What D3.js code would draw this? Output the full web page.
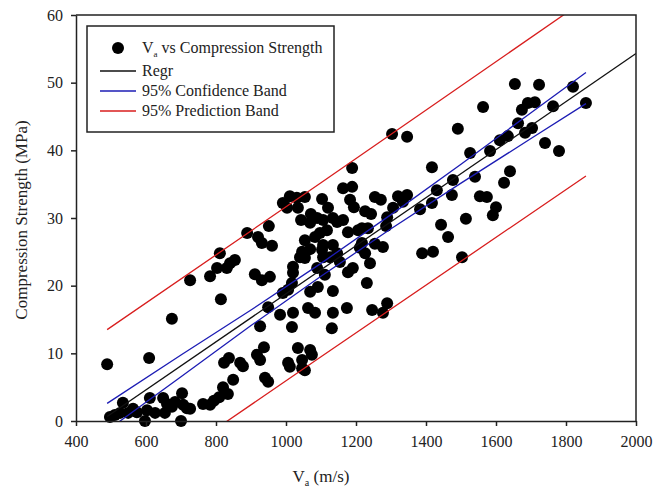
<!DOCTYPE html>
<html>
<head>
<meta charset="utf-8">
<script src="https://cdn.jsdelivr.net/npm/d3@7"></script>
<style>
	html, body { margin: 0; padding: 0; background: #fff; overflow: hidden; width: 664px; height: 490px; }
	svg { display: block; position: absolute; left: 0; top: 0; }
	svg text { font-family: "Liberation Serif", serif; fill: #222; }
	.axis path, .axis line { stroke: #222; stroke-width: 1.5; }
</style>
<script>

/* data */
var velocity = [489,609,674,534,497,511,526,549,563,611,649,660,683,674,706,717,726,603,626,654,597,700,574,703,726,
	811,854,840,803,783,831,911,931,954,814,949,926,937,917,926,837,823,869,877,849,940,949,820,834,809,794,763,783,889,920,931,951,960,
	991,1011,1031,1054,1003,1034,1043,1071,1103,1120,1069,1089,1106,1134,1146,1163,1083,1097,1117,1163,1189,1189,1183,1194,1177,1206,
	1054,1069,1046,1040,1054,1106,1134,1103,1106,1126,1146,1020,1020,1089,1111,1154,1177,1191,1017,1091,1069,1134,991,1006,
	983,1020,1063,1083,1134,1174,1017,1131,1034,1069,1074,1006,1011,1046,1046,1054,
	1226,1243,1254,1271,1320,1346,1334,1306,1289,1286,1217,1234,1383,1431,1417,1477,1474,1443,1463,1217,1211,1254,1277,1226,1389,1420,1240,1303,1346,1417,1231,1289,1246,1277,
	1654,1723,1820,1563,1674,1691,1711,1763,1857,1663,1491,1611,1634,1703,1683,1740,1780,1526,1583,1640,1540,1623,1554,1574,1600,1591,1514,1503];

var strength = [8.4,9.3,15.1,2.7,0.6,0.9,1.2,1.2,1.8,3.4,3.4,2.5,2.8,2.1,2.4,1.9,1.8,1.6,1.2,1.2,0,0,1.3,4.1,20.8,
	24.8,23.8,23.3,22.6,21.4,22.6,21.7,20.8,21.3,18.0,16.8,14.0,10.9,9.8,9.0,9.3,8.6,8.6,8.1,6.1,6.4,5.8,5.0,4.0,3.5,3.0,2.5,2.4,27.8,27.2,26.3,28.8,25.9,
	32.2,33.2,33.0,33.1,31.5,31.5,29.7,30.6,32.8,31.5,29.3,30.0,29.7,30.0,29.4,29.7,27.2,27.8,28.2,34.4,34.6,37.4,32.7,31.6,27.9,28.2,
	26.7,25.4,25.0,24.2,24.1,26.0,26.0,25.3,24.2,24.2,24.8,22.8,21.9,22.6,21.6,23.5,22.0,22.6,20.4,19.8,19.1,19.2,18.9,19.4,
	15.7,16.0,16.7,16.0,16.0,16.7,13.9,13.7,10.8,10.5,9.8,8.6,8.0,9.0,7.8,7.5,
	31.0,30.6,33.1,32.7,33.2,33.4,32.4,31.5,30.1,28.8,28.5,28.5,31.3,34.1,32.2,35.6,33.4,29.0,27.2,26.3,25.6,26.2,25.7,24.8,24.8,25.0,23.3,42.4,42.0,37.5,20.4,17.4,16.4,16.0,
	49.8,49.7,49.4,46.4,46.0,47.0,47.1,46.5,47.0,44.0,43.2,41.5,42.1,43.3,42.6,41.1,39.9,39.6,39.9,36.9,36.1,35.2,33.2,33.1,31.6,30.4,29.9,24.2];

// regression line
var regrX = [489, 2000];
var regrY = [0.66, 54.3];

// 95% confidence band
var confX = [489, 700, 900, 1100, 1300, 1500, 1700, 1857];
var confUpper = [2.6, 9.75, 16.4, 23.3, 30.5, 37.95, 45.55, 51.5];
var confLower = [-1.4, 6.55, 14.1, 21.4, 28.4, 35.15, 41.75, 46.9];

// 95% prediction band
var predX = [489, 1100, 1857];
var predUpper = [13.5, 35.2, 62.3];
var predLower = [-12.2, 9.5, 36.2];

var xTicks = [400, 600, 800, 1000, 1200, 1400, 1600, 1800, 2000];
var yTicks = [0, 10, 20, 30, 40, 50, 60];

var legendLabels = ["Regr", "95% Confidence Band", "95% Prediction Band"];
var legendColors = ["#111", "#1c1cb4", "#d81e1e"];

function drawChart(){

	/* settings */
	var width = 664,
		height = 490,
		margin = { top: 15, bottom: 69, left: 76, right: 28 },
		serif = "'Liberation Serif', 'Times New Roman', serif";

	var innerWidth = width - margin.left - margin.right;
	var innerHeight = height - margin.top - margin.bottom;

	var svg = d3.select("body").append("svg")
		.attr("width", width)
		.attr("height", height)
		.attr("font-family", serif);

	var g = svg.append("g")
		.attr("transform", "translate(" + margin.left + "," + margin.top + ")");

	/* scales */
	var xScale = d3.scaleLinear().domain([400, 2000]).range([0, innerWidth]);
	var yScale = d3.scaleLinear().domain([0, 60]).range([innerHeight, 0]);

	g.append("clipPath")
		.attr("id", "plot-clip")
		.append("rect")
		.attr("width", innerWidth)
		.attr("height", innerHeight);

	/* scatter points */
	g.append("g")
		.selectAll("circle")
		.data(velocity)
		.enter()
		.append("circle")
		.attr("cx", function (d){ return xScale(d); })
		.attr("cy", function (d, i){ return yScale(strength[i]); })
		.attr("r", 6)
		.attr("fill", "#000");

	/* lines */
	function drawLine(xs, ys, color){
		var line = d3.line()
			.x(function (d){ return xScale(d); })
			.y(function (d, i){ return yScale(ys[i]); });
		g.append("path")
			.datum(xs)
			.attr("clip-path", "url(#plot-clip)")
			.attr("d", line)
			.attr("fill", "none")
			.attr("stroke", color)
			.attr("stroke-width", 1.3);
	}

	drawLine(predX, predUpper, legendColors[2]);
	drawLine(predX, predLower, legendColors[2]);
	drawLine(confX, confUpper, legendColors[1]);
	drawLine(confX, confLower, legendColors[1]);
	drawLine(regrX, regrY, legendColors[0]);

	/* axes */
	g.append("g")
		.attr("class", "axis x-axis")
		.attr("transform", "translate(0," + innerHeight + ")")
		.call(d3.axisBottom(xScale).tickValues(xTicks).tickFormat(d3.format("d"))
			.tickSize(5).tickSizeOuter(0).tickPadding(10))
		.attr("font-family", serif)
		.attr("font-size", 16);

	g.append("g")
		.attr("class", "axis y-axis")
		.call(d3.axisLeft(yScale).tickValues(yTicks).tickFormat(d3.format("d"))
			.tickSize(5).tickSizeOuter(0).tickPadding(8))
		.attr("font-family", serif)
		.attr("font-size", 16);

	// top and right frame
	g.append("path")
		.attr("d", "M0,0H" + innerWidth + "V" + innerHeight)
		.attr("fill", "none")
		.attr("stroke", "#222")
		.attr("stroke-width", 1.5);

	/* axis titles */
	var xTitle = svg.append("text")
		.attr("x", margin.left + xScale(1100))
		.attr("y", 482)
		.attr("text-anchor", "middle")
		.style("font-size", "17px");
	xTitle.append("tspan").text("V");
	xTitle.append("tspan").attr("dy", 4).style("font-size", "10px").text("a");
	xTitle.append("tspan").attr("dy", -4).text(" (m/s)");

	svg.append("text")
		.attr("transform", "translate(27," + (margin.top + innerHeight / 2 + 2) + ") rotate(-90)")
		.attr("text-anchor", "middle")
		.style("font-size", "17px")
		.text("Compression Strength (MPa)");

	/* legend */
	var legend = svg.append("g")
		.attr("transform", "translate(87,26)");

	legend.append("rect")
		.attr("width", 247)
		.attr("height", 106)
		.attr("fill", "#fff")
		.attr("stroke", "#222")
		.attr("stroke-width", 1.5);

	legend.append("circle")
		.attr("cx", 31)
		.attr("cy", 22)
		.attr("r", 6)
		.attr("fill", "#000");

	var first = legend.append("text")
		.attr("x", 55)
		.attr("y", 27)
		.style("font-size", "16px");
	first.append("tspan").text("V");
	first.append("tspan").attr("dy", 4).style("font-size", "9px").text("a");
	first.append("tspan").attr("dy", -4).text(" vs Compression Strength");

	legendLabels.forEach(function (label, i){
		var yy = 45 + i * 20;
		legend.append("line")
			.attr("x1", 13)
			.attr("x2", 49)
			.attr("y1", yy)
			.attr("y2", yy)
			.attr("stroke", legendColors[i])
			.attr("stroke-width", 1.3);
		legend.append("text")
			.attr("x", 55)
			.attr("y", yy + 5)
			.style("font-size", "16px")
			.text(label);
	});
}

document.addEventListener("DOMContentLoaded", drawChart);
</script>
</head>
<body></body>
</html>
